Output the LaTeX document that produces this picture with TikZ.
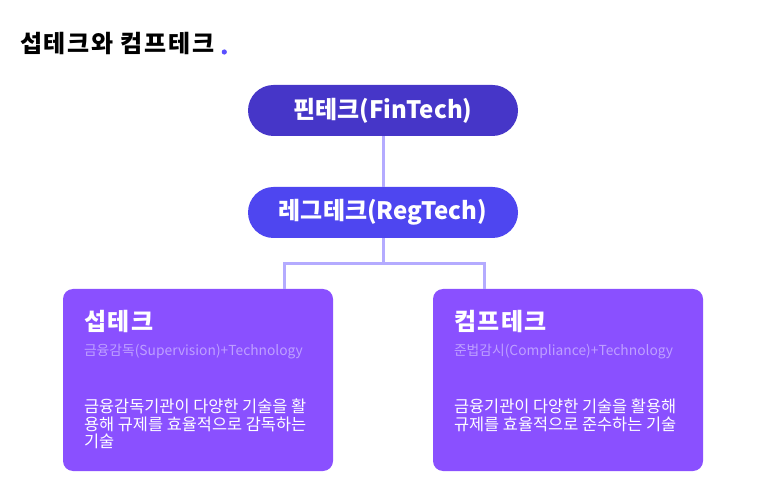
\documentclass[tikz,border=0pt]{standalone}
\usepackage{fontspec}
\setmainfont{Noto Sans CJK KR}
\definecolor{FinBlue}{RGB}{70, 54, 200}
\definecolor{RegBlue}{RGB}{78, 70, 240}
\definecolor{BoxPurple}{RGB}{138, 80, 255}
\definecolor{LinkLilac}{RGB}{180, 171, 255}
\definecolor{SubLilac}{RGB}{190, 160, 255}
\definecolor{DotBlue}{RGB}{90, 79, 255}
\usetikzlibrary{positioning}

\begin{document}
\begin{tikzpicture}[x=1pt, y=-1pt,
        pill/.style={rounded corners=25.5pt, minimum width=270pt, minimum height=51pt, inner sep=0pt, text=white, font=\fontsize{24}{28}\selectfont\bfseries},
        techbox/.style={rounded corners=10pt, fill=BoxPurple, minimum width=270pt, minimum height=182pt, inner sep=0pt},
        boxtitle/.style={anchor=west, inner sep=0pt, text=white, font=\fontsize{24}{28}\selectfont\bfseries\addfontfeature{LetterSpace=6}},
        boxsub/.style={anchor=west, inner sep=0pt, text=SubLilac, font=\fontsize{13.8}{16}\selectfont},
        boxbody/.style={anchor=north west, inner sep=0pt, text=white, align=left, font=\fontsize{16.4}{17.5}\selectfont},
        link/.style={LinkLilac, line width=3pt}
    ]
        \useasboundingbox (0,0) rectangle (768,502);
        % Title
        \node[anchor=west, inner sep=0pt, font=\fontsize{24}{28}\selectfont\bfseries\addfontfeature{LetterSpace=7}] (title) at (20,44) {섭테크와 컴프테크};
        \fill[DotBlue] ([xshift=10pt, yshift=-8pt]title.east) circle (2.6pt);
        % Top pills
        \node[pill, fill=FinBlue] (fintech) at (383,110.5) {핀테크(FinTech)};
        \node[pill, fill=RegBlue] (regtech) at (383,212.5) {레그테크(RegTech)};
        % Boxes
        \node[techbox] (suptech) at (198,380) {};
        \node[techbox] (comptech) at (568,380) {};
        \coordinate (supin) at (284,289);
        \coordinate (compin) at (484,289);
        % Links
        \draw[link] (fintech) -- (regtech);
        \draw[link] (regtech.south) -- ++(0,25) -| (supin);
        \draw[link] (regtech.south) -- ++(0,25) -| (compin);
        % Box texts (left)
        \node[boxtitle] (suptitle) at ([xshift=21pt, yshift=-33pt]suptech.north west) {섭테크};
        \node[boxsub] (supsub) at ([xshift=21pt, yshift=-63pt]suptech.north west) {금융감독(Supervision)+Technology};
        \node[boxbody] (supbody) at ([xshift=21pt, yshift=-110pt]suptech.north west) {금융감독기관이 다양한 기술을 활\\용해 규제를 효율적으로 감독하는\\기술};
        % Box texts (right)
        \node[boxtitle] (comptitle) at ([xshift=21pt, yshift=-33pt]comptech.north west) {컴프테크};
        \node[boxsub] (compsub) at ([xshift=21pt, yshift=-63pt]comptech.north west) {준법감시(Compliance)+Technology};
        \node[boxbody] (compbody) at ([xshift=21pt, yshift=-110pt]comptech.north west) {금융기관이 다양한 기술을 활용해\\규제를 효율적으로 준수하는 기술};
    \end{tikzpicture}
\end{document}
